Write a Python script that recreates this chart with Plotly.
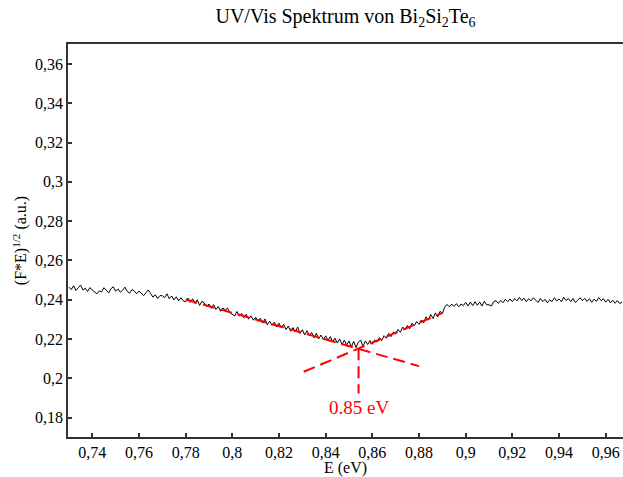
import numpy as np
import plotly.graph_objects as go

# ---- data ----
E_start = 0.730
E_step = 0.001
signal = [
    0.2464, 0.2452, 0.2471, 0.2447, 0.2461, 0.2474, 0.2449, 0.2459, 0.2442, 0.2462,
    0.2449, 0.2437, 0.2430, 0.2445, 0.2440, 0.2461, 0.2449, 0.2435, 0.2456, 0.2466,
    0.2443, 0.2455, 0.2438, 0.2448, 0.2464, 0.2442, 0.2433, 0.2452, 0.2445, 0.2430,
    0.2444, 0.2430, 0.2421, 0.2435, 0.2450, 0.2432, 0.2413, 0.2425, 0.2406, 0.2421,
    0.2420, 0.2410, 0.2430, 0.2405, 0.2419, 0.2399, 0.2415, 0.2395, 0.2410, 0.2394,
    0.2389, 0.2408, 0.2386, 0.2405, 0.2380, 0.2400, 0.2371, 0.2392, 0.2384, 0.2365,
    0.2378, 0.2356, 0.2375, 0.2350, 0.2366, 0.2341, 0.2358, 0.2348, 0.2357, 0.2334,
    0.2324, 0.2317, 0.2340, 0.2316, 0.2331, 0.2308, 0.2326, 0.2301, 0.2318, 0.2296,
    0.2311, 0.2290, 0.2306, 0.2281, 0.2302, 0.2272, 0.2291, 0.2270, 0.2286, 0.2261,
    0.2280, 0.2258, 0.2275, 0.2248, 0.2266, 0.2239, 0.2258, 0.2236, 0.2261, 0.2228,
    0.2247, 0.2221, 0.2242, 0.2217, 0.2233, 0.2206, 0.2229, 0.2201, 0.2220, 0.2197,
    0.2216, 0.2193, 0.2212, 0.2185, 0.2204, 0.2179, 0.2200, 0.2172, 0.2194, 0.2170,
    0.2190, 0.2160, 0.2188, 0.2156, 0.2184, 0.2194, 0.2162, 0.2190, 0.2172, 0.2192,
    0.2173, 0.2195, 0.2184, 0.2207, 0.2192, 0.2217, 0.2204, 0.2229, 0.2212, 0.2235,
    0.2226, 0.2249, 0.2234, 0.2261, 0.2246, 0.2269, 0.2252, 0.2281, 0.2268, 0.2289,
    0.2274, 0.2297, 0.2282, 0.2313, 0.2296, 0.2325, 0.2304, 0.2333, 0.2312, 0.2341,
    0.2330,
    0.2362, 0.2376, 0.2364, 0.2378, 0.2366, 0.2380, 0.2364, 0.2378, 0.2370,
    0.2386, 0.2368, 0.2388, 0.2370, 0.2390, 0.2372, 0.2388, 0.2368, 0.2392, 0.2374,
    0.2374, 0.2368, 0.2390, 0.2395, 0.2381, 0.2397, 0.2385, 0.2402, 0.2390, 0.2404,
    0.2390, 0.2406, 0.2394, 0.2412, 0.2396, 0.2408, 0.2390, 0.2406, 0.2394, 0.2410,
    0.2398, 0.2386, 0.2406, 0.2390, 0.2402, 0.2384, 0.2400, 0.2390, 0.2410, 0.2394,
    0.2404, 0.2390, 0.2412, 0.2396, 0.2406, 0.2390, 0.2406, 0.2386, 0.2398, 0.2410,
    0.2395, 0.2407, 0.2391, 0.2405, 0.2387, 0.2403, 0.2391, 0.2411, 0.2395, 0.2405,
    0.2388, 0.2402, 0.2384, 0.2398, 0.2382, 0.2396, 0.2380, 0.2388,
]
energy = np.round(E_start + E_step * np.arange(len(signal)), 3)

fit_low_x = [0.780, 0.880]
fit_low_y = [0.2401, 0.2062]
fit_high_x = [0.8306, 0.8901]
fit_high_y = [0.2033, 0.2333]
gap_x = [0.8541, 0.8541]
gap_y = [0.2153, 0.1923]
gap_label = "0.85 eV"
gap_label_pos = (0.8541, 0.1850)

x_ticks = [0.74, 0.76, 0.78, 0.80, 0.82, 0.84, 0.86, 0.88, 0.90, 0.92, 0.94, 0.96]
x_ticktext = ["0,74", "0,76", "0,78", "0,8", "0,82", "0,84", "0,86", "0,88", "0,9", "0,92", "0,94", "0,96"]
y_ticks = [0.18, 0.20, 0.22, 0.24, 0.26, 0.28, 0.30, 0.32, 0.34, 0.36]
y_ticktext = ["0,18", "0,2", "0,22", "0,24", "0,26", "0,28", "0,3", "0,32", "0,34", "0,36"]

FONT = "Liberation Serif"
RED = "#ff0000"

fig = go.Figure()
fig.add_trace(go.Scatter(x=energy, y=signal, mode="lines",
                         line=dict(color="black", width=1), showlegend=False))
for xs, ys in [(fit_low_x, fit_low_y), (fit_high_x, fit_high_y), (gap_x, gap_y)]:
    fig.add_trace(go.Scatter(x=xs, y=ys, mode="lines",
                             line=dict(color=RED, width=2, dash="12px,6px"),
                             showlegend=False))

fig.add_annotation(x=gap_label_pos[0], y=gap_label_pos[1], text=gap_label,
                   showarrow=False, font=dict(family=FONT, size=19, color=RED),
                   xanchor="center", yanchor="middle")

axis_common = dict(showline=True, linecolor="#333333", linewidth=1.5,
                   ticks="inside", ticklen=4, tickwidth=1.5, tickcolor="#333333",
                   showgrid=False, zeroline=False,
                   tickfont=dict(family=FONT, size=16, color="black"))

fig.update_layout(
    width=623, height=477,
    margin=dict(l=68, r=0, t=44, b=40),
    paper_bgcolor="white", plot_bgcolor="white",
    font=dict(family=FONT, color="black"),
    title=dict(text="UV/Vis Spektrum von Bi<sub>2</sub>Si<sub>2</sub>Te<sub>6</sub>",
               font=dict(family=FONT, size=20, color="black"),
               x=0.5, xref="paper", xanchor="center",
               y=1 - 16 / 477, yref="container", yanchor="middle"),
    xaxis=dict(range=[0.7296, 0.9674], tickvals=x_ticks, ticktext=x_ticktext,
               mirror=True,
               title=dict(text="E (eV)", font=dict(family=FONT, size=16), standoff=1),
               **axis_common),
    yaxis=dict(range=[0.1701, 0.3702], tickvals=y_ticks, ticktext=y_ticktext,
               title=dict(text="(F*E)<sup>1/2</sup> (a.u.)", font=dict(family=FONT, size=16),
                          standoff=4),
               **axis_common),
)

fig.write_html("out.html")
